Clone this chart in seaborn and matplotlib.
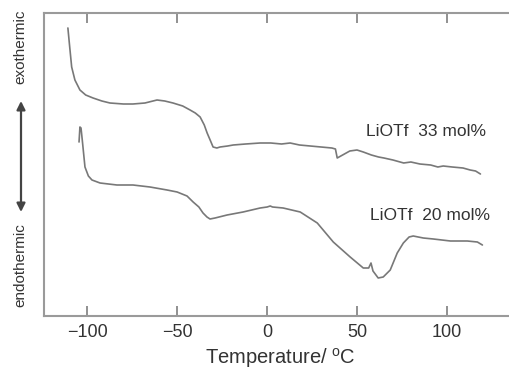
import numpy as np
import pandas as pd
import matplotlib
matplotlib.use("Agg")
import matplotlib.pyplot as plt
import seaborn as sns

# ---- data (temperature in degC, signal in arbitrary units, higher = exothermic) ----
t33 = [-110.9, -110, -108.8, -107, -104.2, -101, -96.9, -92, -87.5, -80, -74.7, -68, -61.3, -57,
       -52.4, -47, -42.9, -40, -37.3, -35, -33.4, -31.5, -30.1, -28, -26.2, -22, -18.9, -12, -3.9,
       2, 8, 12.8, 18, 24, 30, 36, 38, 39, 42, 46, 50, 53.5, 58, 62, 65, 70, 76, 80, 85, 91, 95,
       98, 103, 109, 113, 116, 118.7]
s33_px = [28, 45, 67, 80, 90, 95, 98, 101, 103, 104, 104, 103, 100, 101, 103, 106, 110, 113, 117,
          125, 133, 141, 147, 148, 147, 146, 145, 144, 143, 143, 144, 143, 145, 146, 147, 148, 149,
          158, 155, 151, 150, 152, 155, 157, 158, 160, 163, 162, 164, 165, 167, 166, 167, 168, 170,
          171, 174]

t20 = [-104.7, -104.2, -103.6, -102.9, -101.4, -99.5, -97.5, -93, -83.6, -74.7, -65.2, -55.7, -50.1,
       -44.6, -41.2, -38, -35.7, -33.5, -31.8, -29, -22.3, -13.4, -3.9, 0, 1.7, 3, 8.9, 18.4, 27.9,
       36.8, 46.2, 53.5, 56.5, 57.8, 58.9, 61.8, 64.6, 68.5, 72.4, 75.8, 79, 81.3, 86.9, 92.5, 102,
       111.4, 117, 119.8]
s20_px = [142, 127, 128, 140, 167, 176, 180, 183, 185, 185, 187, 190, 192, 196, 202, 207, 213, 217,
          219, 218, 215, 212, 208, 207, 206, 207, 208, 212, 223, 242, 257, 268, 268, 263, 271, 278,
          277, 270, 253, 243, 237, 236, 238, 239, 241, 241, 242, 245]

labels = ["LiOTf  33 mol%", "LiOTf  20 mol%"]
xticks = [-100, -50, 0, 50, 100]

# signal values (height above plot bottom)
s33 = [316 - v for v in s33_px]
s20 = [316 - v for v in s20_px]

df = pd.concat([
    pd.DataFrame({"T": t33, "signal": s33, "sample": labels[0]}),
    pd.DataFrame({"T": t20, "signal": s20, "sample": labels[1]}),
])

sns.set_style("white")
plt.rcParams["font.family"] = ["Liberation Sans", "DejaVu Sans"]
plt.rcParams["mathtext.fontset"] = "custom"
plt.rcParams["mathtext.rm"] = "Liberation Sans"
plt.rcParams["mathtext.it"] = "Liberation Sans:italic"
plt.rcParams["mathtext.bf"] = "Liberation Sans:bold"

W, H = 509, 376
fig = plt.figure(figsize=(W / 100, H / 100), dpi=100)
ax = fig.add_axes([44 / W, (H - 316) / H, (516 - 44) / W, (316 - 13) / H])

line_c = "#787878"
spine_c = "#9a9a9a"
text_c = "#333333"

sns.lineplot(data=df, x="T", y="signal", units="sample", estimator=None, sort=False,
             color=line_c, lw=1.2, ax=ax, legend=False)

ax.set_xlim(-124.2, 138.5)
ax.set_ylim(0, 303)
ax.set_xticks(xticks)
ax.set_yticks([])
ax.tick_params(axis="x", direction="in", top=True, bottom=True, length=7.5, width=1.3,
               color="#888888", labelsize=13, labelcolor=text_c, pad=6)
for s in ax.spines.values():
    s.set_color(spine_c)
    s.set_linewidth(1.5)
    s.set_visible(True)

ax.set_xlabel(r"Temperature/ $^{\mathrm{o}}$C", fontsize=14.5, color=text_c, labelpad=3)
ax.set_ylabel("")

ax.text(122, 316 - 131, labels[0], fontsize=12.5, color=text_c, ha="right", va="center")
ax.text(124, 316 - 215, labels[1], fontsize=12.5, color=text_c, ha="right", va="center")

# side annotation: exothermic / endothermic with double arrow
fig.text(20 / W, 1 - 47 / H, "exothermic", rotation=90, ha="center", va="center",
         fontsize=11, color=text_c)
fig.text(20 / W, 1 - 265 / H, "endothermic", rotation=90, ha="center", va="center",
         fontsize=11, color=text_c)
fig.add_artist(matplotlib.patches.FancyArrowPatch(
    (21 / W, 1 - 101 / H), (21 / W, 1 - 212 / H), transform=fig.transFigure,
    arrowstyle="<|-|>,head_length=5,head_width=2.5", color="#444444", lw=1.6,
    shrinkA=0, shrinkB=0))

fig.savefig("out.png", dpi=100)
